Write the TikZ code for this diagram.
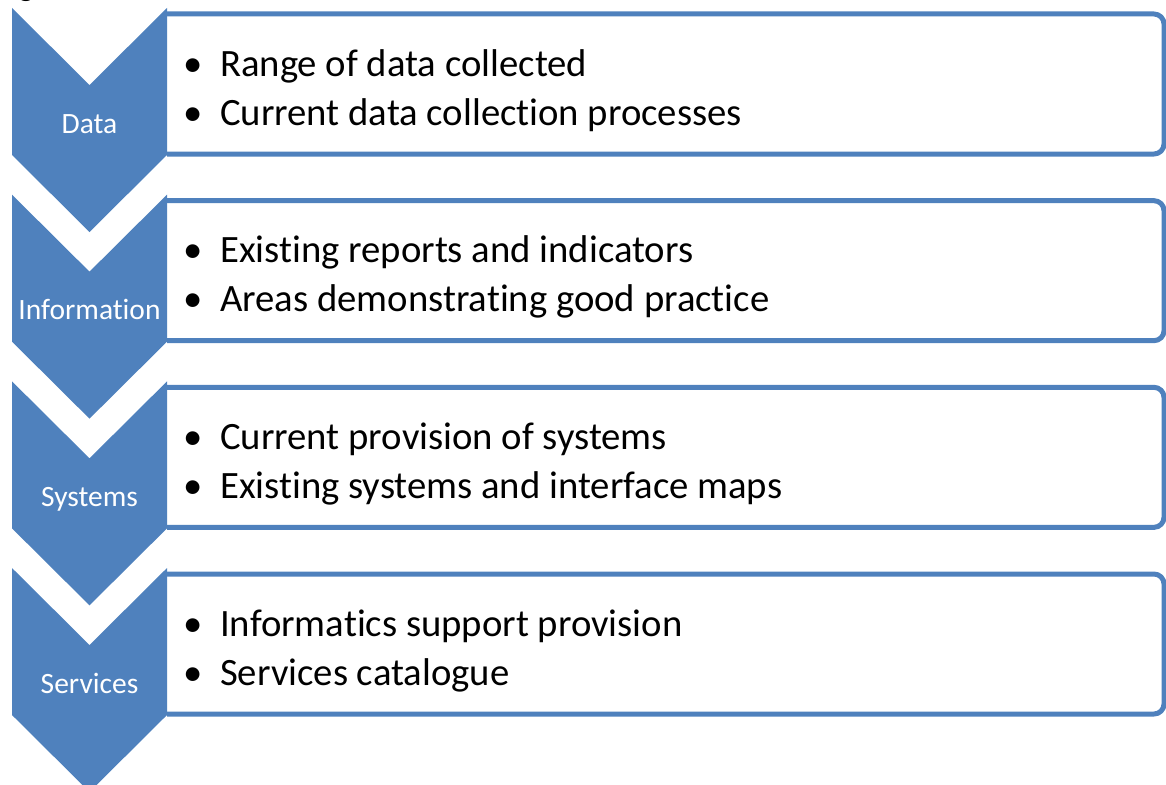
\documentclass[tikz,border=0pt]{standalone}
\usepackage{fontspec}
\setmainfont{Carlito}[Ligatures={NoCommon},RawFeature={-clig}]
\definecolor{accent}{HTML}{4F81BD}
\begin{document}
\begin{tikzpicture}[x=1pt,y=-1pt,
  chev/.style={fill=accent},
  boxline/.style={draw=accent,line width=5pt,line join=round,rounded corners=10pt},
  lbl/.style={text=white,font=\fontsize{29.5}{32}\selectfont,anchor=base,inner sep=0pt},
  bul/.style={font=\fontsize{38.7}{42}\selectfont,anchor=base,inner sep=0pt},
  itm/.style={font=\fontsize{38.7}{42}\selectfont,anchor=base west,inner sep=0pt}]
\useasboundingbox (0,0) rectangle (1166,784);
\begin{scope}
\clip (0,0) rectangle (1166,784);
\node[font=\bfseries\fontsize{30}{32}\selectfont,anchor=base west,inner sep=0pt] (frag) at (19,-3) {g};
\foreach \k/\lab/\a/\b in {0/Data/Range of data collected/Current data collection processes,
  1/Information/Existing reports and indicators/Areas demonstrating good practice,
  2/Systems/Current provision of systems/Existing systems and interface maps,
  3/Services/Informatics support provision/Services catalogue}{
  \pgfmathsetmacro{\T}{8+186.67*\k}
  % text box
  \fill[white] (167,\T+6) rectangle (1164,\T+146);
  \draw[boxline] (167,\T+6) -- (1164,\T+6) -- (1164,\T+146) -- (167,\T+146);
  % chevron
  \fill[chev] (12,\T) -- (89.5,\T+77) -- (167,\T) -- (167,\T+147) -- (89.5,\T+224) -- (12,\T+147) -- cycle;
  \node[lbl] (l\k) at (89.5,\T+125) {\lab};
  \node[bul] (b\k a) at (193,\T+68) {•};
  \node[itm] (t\k a) at (220,\T+68) {\a};
  \node[bul] (b\k b) at (193,\T+117) {•};
  \node[itm] (t\k b) at (220,\T+117) {\b};
}
\end{scope}
\end{tikzpicture}
\end{document}
